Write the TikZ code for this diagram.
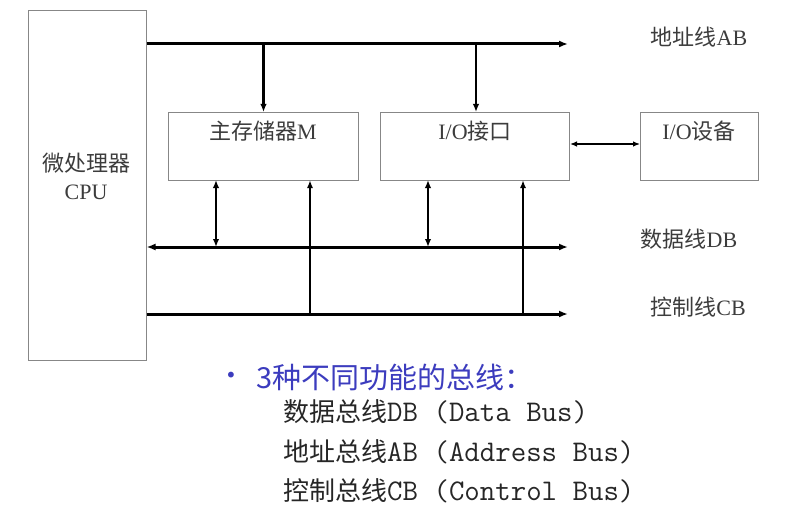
\documentclass[tikz,border=0pt]{standalone}
\usepackage{fontspec}
\setmainfont{Liberation Serif}
\newfontfamily\cjk{Noto Sans CJK SC}
\newfontfamily\symfont{DejaVu Sans}
\usetikzlibrary{arrows.meta}
\definecolor{lblgray}{RGB}{60,60,60}
\definecolor{boxgray}{RGB}{135,135,135}
\definecolor{titleblue}{RGB}{60,60,190}
\newcommand{\mono}[1]{{\fontsize{30}{32}\selectfont\ttfamily #1}}
\begin{document}
\begin{tikzpicture}[x=1pt,y=-1pt,
  box/.style={draw=boxgray, line width=1pt, rectangle, inner sep=0pt, anchor=north west},
  lbl/.style={text=lblgray, inner sep=0pt, font=\fontsize{22}{25}\selectfont},
  bus/.style={line width=3pt, -{Latex[length=9pt,width=7pt]}},
  busboth/.style={line width=3pt, {Latex[length=9pt,width=7pt]}-{Latex[length=9pt,width=7pt]}},
  down/.style={line width=2.4pt, -{Latex[length=8pt,width=6.5pt]}},
  dbl/.style={line width=2.6pt, {Latex[length=8pt,width=6.5pt]}-{Latex[length=8pt,width=6.5pt]}},
  ctl/.style={line width=1.7pt, -{Latex[length=8pt,width=6pt]}},
  thin/.style={line width=1.2pt, {Latex[length=7pt,width=5.5pt]}-{Latex[length=7pt,width=5.5pt]}},
  big/.style={inner sep=0pt, anchor=west, font=\fontsize{26}{29}\selectfont}]
\useasboundingbox (0,0) rectangle (810,524);
% boxes
\node[box, minimum width=118pt, minimum height=350pt] (cpu) at (27.5,10) {};
\node[box, minimum width=190pt, minimum height=68pt] (mem) at (168,112) {};
\node[box, minimum width=189pt, minimum height=68pt] (io) at (380,112) {};
\node[box, minimum width=118pt, minimum height=68pt] (dev) at (640,112) {};
% box labels
\node[lbl, align=center] (cpulbl) at (86,176) {{\cjk 微处理器}\\[3pt]CPU};
\node[lbl] (memlbl) at (263,131) {{\cjk 主存储器}M};
\node[lbl] (iolbl) at (475,131) {I/O{\cjk 接口}};
\node[lbl] (devlbl) at (699,131) {I/O{\cjk 设备}};
% bus coordinates
\coordinate (abL) at (cpu.east |- 0,44);
\coordinate (abR) at (568,44);
\coordinate (dbL) at (cpu.east |- 0,247);
\coordinate (dbR) at (568,247);
\coordinate (cbL) at (cpu.east |- 0,314);
\coordinate (cbR) at (568,314);
% buses
\draw[bus] (abL) -- (abR);
\draw[busboth] (dbL) -- (dbR);
\draw[bus] (cbL) -- (cbR);
% address taps
\draw[down] (mem.north |- abL) -- (mem.north);
\draw[down] (476,44) -- (476,112);
% data taps
\coordinate (memD) at (216,180);
\coordinate (ioD) at (428,180);
\draw[dbl] (memD |- dbL) -- (memD);
\draw[dbl] (ioD |- dbL) -- (ioD);
% control taps
\coordinate (memC) at (310,180);
\coordinate (ioC) at (523,180);
\draw[ctl] (memC |- cbL) -- (memC);
\draw[ctl] (ioC |- cbL) -- (ioC);
% io to device
\coordinate (ioE) at (io.east |- 0,144);
\coordinate (devW) at (dev.west |- 0,144);
\draw[thin] (ioE) -- (devW);
% bus labels
\node[lbl] (ablbl) at (699,37) {{\cjk 地址线}AB};
\node[lbl] (dblbl) at (689,239) {{\cjk 数据线}DB};
\node[lbl] (cblbl) at (698,307) {{\cjk 控制线}CB};
% bottom text
\node[text=titleblue, inner sep=0pt, font=\fontsize{20}{22}\selectfont\symfont] (bullet) at (231,377) {•};
\node[big, text=titleblue, font=\fontsize{29}{31}\selectfont] (title) at (256,377) {{\cjk 3种不同功能的总线：}};
\node[big, text=black!85] (l1) at (283,412) {{\cjk 数据总线}\mono{DB (Data Bus)}};
\node[big, text=black!85] (l2) at (283,452) {{\cjk 地址总线}\mono{AB (Address Bus)}};
\node[big, text=black!85] (l3) at (283,491) {{\cjk 控制总线}\mono{CB (Control Bus)}};
\end{tikzpicture}
\end{document}
